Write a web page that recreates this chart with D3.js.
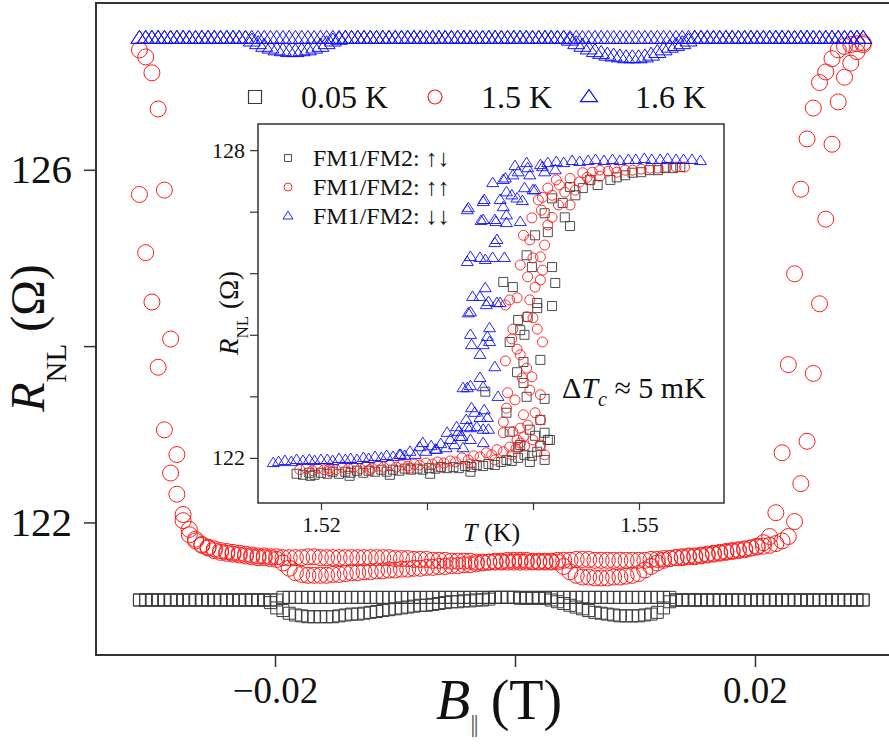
<!DOCTYPE html>
<html><head><meta charset="utf-8">
<script src="https://cdn.jsdelivr.net/npm/d3@7"></script>
<style>body{margin:0;background:#fff}svg{display:block}</style>
</head><body>
<svg id="c" width="889" height="745"></svg>
<script>
// ---------------- main panel data: R_NL (Ohm) vs B (T), evenly swept field ----------------
const B_START = -0.0313, B_STEP = 0.00052;   // field sweep grid (117 points)
const R_005K_a = [121.12,121.12,121.12,121.12,121.12,121.12,121.12,121.12,121.12,121.12,
 121.12,121.12,121.12,121.12,121.12,121.12,121.12,121.12,121.12,121.12,
 121.12,121.12,121.12,121.15,121.15,121.15,121.15,121.15,121.15,121.15,
 121.15,121.15,121.15,121.15,121.15,121.15,121.15,121.15,121.15,121.15,
 121.15,121.15,121.15,121.15,121.15,121.15,121.15,121.15,121.15,121.15,
 121.15,121.15,121.15,121.15,121.15,121.15,121.15,121.15,121.15,121.15,
 121.15,121.14,121.14,121.14,121.14,121.14,121.12,121.10,121.08,121.06,
 121.04,121.02,121.00,120.98,120.97,120.96,120.95,120.94,120.94,120.94,
 120.94,120.95,120.96,120.98,121.03,121.10,121.12,121.12,121.12,121.12,
 121.12,121.12,121.12,121.12,121.12,121.12,121.12,121.12,121.12,121.12,
 121.12,121.12,121.12,121.12,121.12,121.12,121.12,121.12,121.12,121.12,
 121.12,121.12,121.12,121.12,121.12,121.12,121.12];
const R_005K_b = [121.12,121.12,121.12,121.12,121.12,121.12,121.12,121.12,121.12,121.12,
 121.12,121.12,121.12,121.12,121.12,121.12,121.12,121.12,121.12,121.12,
 121.12,121.09,121.03,121.00,120.97,120.95,120.94,120.93,120.93,120.93,
 120.93,120.93,120.94,120.95,120.96,120.96,120.97,120.98,120.99,121.00,
 121.01,121.02,121.03,121.04,121.05,121.06,121.06,121.07,121.08,121.09,
 121.10,121.10,121.11,121.11,121.12,121.12,121.13,121.15,121.15,121.15,
 121.15,121.15,121.15,121.15,121.15,121.15,121.15,121.15,121.15,121.15,
 121.15,121.15,121.15,121.15,121.15,121.15,121.15,121.15,121.15,121.15,
 121.15,121.15,121.15,121.15,121.15,121.15,121.12,121.12,121.12,121.12,
 121.12,121.12,121.12,121.12,121.12,121.12,121.12,121.12,121.12,121.12,
 121.12,121.12,121.12,121.12,121.12,121.12,121.12,121.12,121.12,121.12,
 121.12,121.12,121.12,121.12,121.12,121.12,121.12];
const R_15K_a = [125.72,125.06,124.50,123.76,123.05,122.56,122.32,122.09,121.92,121.81,
 121.74,121.71,121.68,121.66,121.65,121.64,121.63,121.62,121.61,121.60,
 121.60,121.59,121.58,121.54,121.48,121.43,121.41,121.40,121.40,121.40,
 121.40,121.41,121.41,121.42,121.43,121.43,121.44,121.44,121.45,121.45,
 121.46,121.46,121.47,121.47,121.48,121.48,121.49,121.49,121.50,121.50,
 121.51,121.51,121.52,121.52,121.53,121.54,121.55,121.56,121.56,121.57,
 121.57,121.57,121.57,121.56,121.56,121.56,121.56,121.57,121.57,121.57,
 121.58,121.58,121.58,121.57,121.57,121.57,121.57,121.57,121.57,121.57,
 121.57,121.57,121.58,121.58,121.59,121.59,121.60,121.60,121.61,121.61,
 121.62,121.63,121.64,121.65,121.66,121.67,121.68,121.69,121.71,121.73,
 121.77,121.84,122.11,122.79,123.79,124.82,125.78,126.35,126.70,126.99,
 127.11,127.26,127.36,127.40,127.42,127.43,127.44];
const R_15K_b = [127.36,127.28,127.10,126.69,125.77,124.08,122.77,122.02,121.86,121.79,
 121.75,121.72,121.70,121.68,121.67,121.66,121.65,121.64,121.63,121.62,
 121.62,121.61,121.61,121.60,121.60,121.60,121.60,121.61,121.61,121.60,
 121.60,121.60,121.60,121.60,121.60,121.60,121.60,121.60,121.60,121.60,
 121.60,121.59,121.59,121.59,121.58,121.58,121.58,121.57,121.57,121.57,
 121.56,121.56,121.56,121.56,121.55,121.55,121.55,121.55,121.55,121.55,
 121.55,121.55,121.55,121.55,121.55,121.55,121.55,121.55,121.50,121.44,
 121.40,121.38,121.38,121.37,121.37,121.37,121.38,121.38,121.39,121.40,
 121.42,121.46,121.50,121.54,121.57,121.59,121.60,121.61,121.62,121.62,
 121.63,121.64,121.65,121.66,121.67,121.68,121.69,121.70,121.71,121.72,
 121.73,121.74,121.76,121.79,121.84,122.01,122.44,122.92,123.69,124.48,
 125.44,126.29,126.77,127.05,127.21,127.34,127.42];
const R_16K_a = [127.49,127.49,127.49,127.49,127.49,127.49,127.49,127.49,127.49,127.49,
 127.49,127.49,127.49,127.49,127.49,127.49,127.49,127.49,127.49,127.49,
 127.49,127.49,127.49,127.49,127.49,127.49,127.49,127.49,127.49,127.49,
 127.49,127.49,127.49,127.49,127.49,127.49,127.49,127.49,127.49,127.49,
 127.49,127.49,127.49,127.49,127.49,127.49,127.49,127.49,127.49,127.49,
 127.49,127.49,127.49,127.49,127.49,127.49,127.49,127.49,127.49,127.49,
 127.49,127.49,127.49,127.49,127.49,127.49,127.49,127.49,127.49,127.47,
 127.43,127.40,127.37,127.34,127.32,127.30,127.29,127.28,127.27,127.27,
 127.27,127.28,127.30,127.33,127.36,127.39,127.41,127.43,127.46,127.49,
 127.49,127.49,127.49,127.49,127.49,127.49,127.49,127.49,127.49,127.49,
 127.49,127.49,127.49,127.49,127.49,127.49,127.49,127.49,127.49,127.49,
 127.49,127.49,127.49,127.49,127.49,127.49,127.49];
const R_16K_b = [127.49,127.49,127.49,127.49,127.49,127.49,127.49,127.49,127.49,127.49,
 127.49,127.49,127.49,127.49,127.49,127.49,127.49,127.49,127.46,127.43,
 127.40,127.38,127.36,127.35,127.34,127.34,127.35,127.36,127.38,127.40,
 127.43,127.46,127.48,127.49,127.49,127.49,127.49,127.49,127.49,127.49,
 127.49,127.49,127.49,127.49,127.49,127.49,127.49,127.49,127.49,127.49,
 127.49,127.49,127.49,127.49,127.49,127.49,127.49,127.49,127.49,127.49,
 127.49,127.49,127.49,127.49,127.49,127.49,127.49,127.49,127.49,127.49,
 127.49,127.49,127.49,127.49,127.49,127.49,127.49,127.49,127.49,127.49,
 127.49,127.49,127.49,127.49,127.49,127.49,127.49,127.49,127.49,127.49,
 127.49,127.49,127.49,127.49,127.49,127.49,127.49,127.49,127.49,127.49,
 127.49,127.49,127.49,127.49,127.49,127.49,127.49,127.49,127.49,127.49,
 127.49,127.49,127.49,127.49,127.49,127.49,127.49];
const mainXTicks = [-0.02, 0, 0.02];
const mainXTickLabels = ["\u22120.02", "", "0.02"];
const mainYTicks = [122, 124, 126];
const mainYTickLabels = ["122", "", "126"];
const mainLegend = ["0.05 K", "1.5 K", "1.6 K"];

// ---------------- inset data: R_NL (Ohm) vs T (K) ----------------
const T_ud = [1.5177,1.5183,1.5189,1.5194,1.5200,1.5206,1.5211,1.5217,1.5223,1.5228,1.5234,1.5240,1.5245,1.5251,1.5257,1.5262,1.5268,1.5274,1.5279,1.5285,1.5291,1.5296,1.5302,1.5308,1.5313,1.5319,1.5325,1.5330,1.5336,1.5342,1.5347,1.5353,1.5358,1.5364,1.5370,1.5375,1.5380,1.5386,1.5392,1.5399,1.5404,1.5407,1.5402,1.5411,1.5411,1.5394,1.5375,1.5355,1.5391,1.5385,1.5391,1.5378,1.5392,1.5386,1.5404,1.5418,1.5372,1.5381,1.5395,1.5404,1.5394,1.5399,1.5418,1.5421,1.5402,1.5414,1.5430,1.5435,1.5428,1.5440,1.5447,1.5461,1.5473,1.5479,1.5487,1.5494,1.5502,1.5510,1.5518,1.5525,1.5532,1.5539,1.5378,1.5386,
 1.5407,1.5414,1.5397,1.5388,1.5418,1.5435,1.5454,1.5411,1.5388,1.5407,1.5416,1.5397,1.5411,1.5341,1.5303,1.5265,1.5227,1.5190];
const R_ud = [121.69,121.67,121.71,121.67,121.71,121.69,121.73,121.69,121.73,121.71,121.75,121.71,121.75,121.73,121.77,121.73,121.77,121.75,121.79,121.77,121.79,121.77,121.80,121.79,121.82,121.80,121.82,121.80,121.84,121.82,121.86,121.84,121.88,121.86,121.92,121.96,121.94,122.00,122.06,122.04,122.12,122.23,122.43,122.49,123.15,123.19,122.88,123.29,123.46,123.67,123.87,124.26,124.40,124.69,124.92,124.96,125.43,125.33,124.75,125.02,125.95,125.72,125.72,125.41,126.34,126.40,126.69,126.52,126.97,127.12,127.26,127.32,127.42,127.47,127.51,127.56,127.57,127.61,127.61,127.65,127.65,127.67,122.51,122.21,
 122.74,122.35,122.55,122.25,127.06,127.28,127.42,126.77,124.49,123.91,122.35,121.92,121.96,121.73,121.69,121.67,121.65,121.65];
const T_uu = [1.5180,1.5186,1.5192,1.5197,1.5203,1.5208,1.5214,1.5220,1.5226,1.5231,1.5237,1.5242,1.5248,1.5254,1.5259,1.5265,1.5271,1.5276,1.5282,1.5288,1.5293,1.5299,1.5305,1.5310,1.5316,1.5322,1.5327,1.5333,1.5339,1.5344,1.5350,1.5356,1.5361,1.5366,1.5372,1.5378,1.5384,1.5388,1.5392,1.5385,1.5391,1.5372,1.5381,1.5388,1.5372,1.5375,1.5402,1.5407,1.5391,1.5376,1.5399,1.5390,1.5394,1.5374,1.5385,1.5380,1.5409,1.5381,1.5404,1.5374,1.5385,1.5394,1.5400,1.5407,1.5409,1.5395,1.5402,1.5407,1.5391,1.5399,1.5408,1.5409,1.5418,1.5435,1.5418,1.5400,1.5425,1.5430,1.5435,1.5444,1.5451,1.5447,1.5463,1.5479,1.5494,1.5510,1.5526,1.5543,1.5456,1.5471,1.5487,1.5502,1.5518,1.5535,1.5414,1.5422,
 1.5378,1.5397,1.5388,1.5411,1.5397,1.5414,1.5405,1.5424,1.5440,1.5454,1.5463,1.5477,1.5388,1.5397,1.5383,1.5407,1.5395,1.5400,1.5380,1.5407,1.5411,1.5364,1.5341,1.5313,1.5284,1.5246,1.5208];
const R_uu = [121.77,121.80,121.75,121.80,121.77,121.80,121.77,121.82,121.79,121.82,121.79,121.84,121.80,121.84,121.82,121.86,121.82,121.86,121.84,121.88,121.86,121.90,121.88,121.92,121.90,121.94,121.92,122.00,121.96,122.04,122.02,122.10,122.06,122.16,122.12,122.21,122.18,122.29,122.23,122.35,122.41,122.49,122.51,122.58,122.70,122.97,122.88,122.74,122.84,123.27,123.58,123.56,123.75,123.89,124.12,124.32,124.26,124.51,124.51,124.98,125.12,124.75,124.73,125.92,125.66,125.53,125.33,125.47,126.34,126.68,126.83,127.08,127.12,126.93,126.69,125.90,127.32,127.18,127.45,127.38,127.47,127.56,127.61,127.57,127.61,127.65,127.67,127.67,127.57,127.59,127.61,127.63,127.65,127.67,127.26,127.42,
 125.08,125.08,125.76,126.15,126.25,126.54,127.03,126.93,127.22,127.42,127.49,127.65,124.01,123.32,123.13,123.23,122.64,122.35,122.06,122.25,122.06,121.96,121.88,121.82,121.80,121.77,121.75];
const T_dd = [1.5155,1.5160,1.5166,1.5172,1.5177,1.5183,1.5189,1.5194,1.5200,1.5206,1.5211,1.5217,1.5223,1.5228,1.5234,1.5240,1.5245,1.5251,1.5257,1.5262,1.5268,1.5274,1.5279,1.5284,1.5289,1.5293,1.5299,1.5304,1.5308,1.5313,1.5318,1.5322,1.5326,1.5330,1.5333,1.5337,1.5341,1.5345,1.5350,1.5354,1.5358,1.5334,1.5341,1.5350,1.5353,1.5367,1.5342,1.5350,1.5359,1.5357,1.5364,1.5339,1.5356,1.5366,1.5343,1.5355,1.5338,1.5350,1.5362,1.5373,1.5366,1.5338,1.5351,1.5365,1.5375,1.5388,1.5390,1.5354,1.5369,1.5380,1.5362,1.5392,1.5402,1.5374,1.5386,1.5397,1.5411,1.5421,1.5407,1.5414,1.5422,1.5429,1.5437,1.5444,1.5452,1.5459,1.5467,1.5475,1.5482,1.5490,1.5497,1.5505,1.5512,1.5520,1.5527,1.5535,1.5542,1.5550,1.5558,1.5383,1.5395,
 1.5339,1.5353,1.5372,1.5381,1.5394,1.5375,1.5385,1.5372,1.5364,1.5353,1.5375,1.5364,1.5355,1.5341,1.5358,1.5369,1.5341,1.5350,1.5341,1.5359,1.5353,1.5338,1.5342,1.5357,1.5328,1.5338,1.5347,1.5353,1.5319,1.5331,1.5341,1.5353,1.5296,1.5309,1.5334,1.5275,1.5400,1.5409];
const R_dd = [121.90,121.92,121.94,121.92,121.96,121.94,121.96,121.94,121.96,121.96,121.94,121.98,121.96,121.98,121.96,122.00,121.98,122.02,122.00,122.04,122.02,122.06,122.04,122.12,122.06,122.21,122.12,122.23,122.16,122.27,122.19,122.35,122.25,122.51,122.41,122.74,122.58,122.88,122.78,122.93,122.55,123.36,123.40,123.56,123.38,123.19,124.20,124.01,124.26,124.36,123.77,124.82,124.98,125.02,125.14,125.31,125.82,125.90,125.90,125.90,126.25,126.83,126.62,126.60,126.58,126.60,127.01,127.03,127.03,127.12,127.36,127.26,127.22,127.45,127.57,127.51,127.57,127.61,127.71,127.75,127.77,127.75,127.79,127.77,127.79,127.81,127.79,127.81,127.79,127.81,127.81,127.83,127.81,127.81,127.83,127.81,127.81,127.81,127.79,127.69,127.65,
 126.87,126.99,127.42,127.51,127.75,127.18,127.06,126.89,126.64,126.64,126.73,126.19,125.86,125.92,125.04,125.02,124.84,125.14,124.40,124.53,124.20,123.36,122.97,122.78,122.60,122.60,122.60,122.55,122.49,122.41,122.35,122.29,122.29,122.16,122.19,122.06,127.22,127.67];
const insetXTicks = [1.52, 1.53, 1.54, 1.55];
const insetXTickLabels = ["1.52", "", "", "1.55"];
const insetYTicks = [122, 123.2, 124.4, 125.6, 126.8, 128];
const insetYTickLabels = ["122", "", "", "", "", "128"];
const insetLegend = ["FM1/FM2: \u2191\u2193", "FM1/FM2: \u2191\u2191", "FM1/FM2: \u2193\u2193"];

// ---------------- drawing ----------------
const FONT = "'Liberation Serif','Times New Roman',serif";
const C_BLK = "#3a3a3a", C_RED = "#ff1a1a", C_BLU = "#1010ff";
const svg = d3.select("#c");

const sq = s => `M${-s/2},${-s/2}h${s}v${s}h${-s}Z`;
const tri = (w, h) => `M0,${-h*0.62}L${w/2},${h*0.38}L${-w/2},${h*0.38}Z`;
const circ = r => `M${r},0A${r},${r} 0 1,1 ${-r},0A${r},${r} 0 1,1 ${r},0Z`;

// main scales
const x = d3.scaleLinear().domain([-0.03492, 0.03142]).range([96, 892]);
const y = d3.scaleLinear().domain([120.496, 127.892]).range([655, 3]);
const Bgrid = R_005K_a.map((_, i) => B_START + i * B_STEP);

function drawMain(arr, path, color, sw) {
  svg.append("g").selectAll("path").data(arr).join("path")
    .attr("d", path)
    .attr("transform", (d, i) => `translate(${x(Bgrid[i])},${y(d)})`)
    .attr("fill", "none").attr("stroke", color).attr("stroke-width", sw);
}
drawMain(R_005K_a, sq(12), C_BLK, 1);
drawMain(R_005K_b, sq(12), C_BLK, 1);
drawMain(R_15K_a, circ(8), C_RED, 1);
drawMain(R_15K_b, circ(8), C_RED, 1);
drawMain(R_16K_a, tri(17, 13), C_BLU, 1);
drawMain(R_16K_b, tri(17, 13), C_BLU, 1);

// main frame
svg.append("path").attr("d", `M892,3H96V655H892`).attr("fill", "none")
  .attr("stroke", "#333").attr("stroke-width", 2);

// main axes
const gx = svg.append("g").attr("transform", "translate(0,655)")
  .call(d3.axisBottom(x).tickValues(mainXTicks).tickSize(12).tickSizeOuter(0).tickPadding(10)
    .tickFormat((d, i) => mainXTickLabels[i]));
gx.select(".domain").remove();
gx.selectAll("line").attr("stroke", "#333").attr("stroke-width", 1.5);
gx.selectAll("text").attr("font-family", FONT).attr("font-size", 37).attr("fill", "#111");

const gy = svg.append("g").attr("transform", "translate(96,0)")
  .call(d3.axisLeft(y).tickValues(mainYTicks).tickSize(12).tickSizeOuter(0).tickPadding(12)
    .tickFormat((d, i) => mainYTickLabels[i]));
gy.select(".domain").remove();
gy.selectAll("line").attr("stroke", "#333").attr("stroke-width", 1.5);
gy.selectAll("text").attr("font-family", FONT).attr("font-size", 41).attr("fill", "#111");

// axis titles
const xt = svg.append("text").attr("x", 436).attr("y", 719)
  .attr("font-family", FONT).attr("font-size", 56).attr("fill", "#111");
xt.append("tspan").attr("font-style", "italic").text("B");
xt.append("tspan").attr("font-size", 26).attr("dy", 13).attr("letter-spacing", -2)
  .attr("fill", "#555").text("||");
xt.append("tspan").attr("dy", -13).attr("letter-spacing", 0).attr("fill", "#111").text(" (T)");

const yt = svg.append("text").attr("transform", "translate(44,338) rotate(-90)")
  .attr("text-anchor", "middle").attr("font-family", FONT).attr("font-size", 48).attr("fill", "#111");
yt.append("tspan").attr("font-style", "italic").text("R");
yt.append("tspan").attr("font-size", 29).attr("dy", 22).text("NL");
yt.append("tspan").attr("dy", -22).text(" (\u03A9)");

// main legend
const legSym = [sq(13), circ(7), tri(17, 12)];
const legCol = [C_BLK, C_RED, C_BLU];
const legX = [255, 435, 589];
mainLegend.forEach((t, i) => {
  svg.append("path").attr("d", legSym[i]).attr("transform", `translate(${legX[i]},97)`)
    .attr("fill", "none").attr("stroke", legCol[i]).attr("stroke-width", 1.2);
  svg.append("text").attr("x", legX[i] + 46).attr("y", 108).attr("font-family", FONT)
    .attr("font-size", 32).attr("fill", "#111").text(t);
});

// ---------------- inset ----------------
const xi = d3.scaleLinear().domain([1.51406, 1.55802]).range([258, 724]);
const yi = d3.scaleLinear().domain([121.12, 128.51]).range([503, 124]);
svg.append("rect").attr("x", 258).attr("y", 124).attr("width", 466).attr("height", 379)
  .attr("fill", "#fff").attr("stroke", "#333").attr("stroke-width", 1.5);

function drawInset(Ts, Rs, path, color) {
  svg.append("g").selectAll("path").data(Ts).join("path")
    .attr("d", path)
    .attr("transform", (d, i) => `translate(${xi(d)},${yi(Rs[i])})`)
    .attr("fill", "none").attr("stroke", color).attr("stroke-width", 0.9);
}
drawInset(T_ud, R_ud, sq(9), C_BLK);
drawInset(T_uu, R_uu, circ(5), C_RED);
drawInset(T_dd, R_dd, tri(12, 9.5), C_BLU);

const gxi = svg.append("g").attr("transform", "translate(0,503)")
  .call(d3.axisBottom(xi).tickValues(insetXTicks).tickSize(7).tickSizeOuter(0).tickPadding(6)
    .tickFormat((d, i) => insetXTickLabels[i]));
gxi.select(".domain").remove();
gxi.selectAll("line").attr("stroke", "#333").attr("stroke-width", 1.2);
gxi.selectAll("text").attr("font-family", FONT).attr("font-size", 22).attr("fill", "#111");

const gyi = svg.append("g").attr("transform", "translate(258,0)")
  .call(d3.axisLeft(yi).tickValues(insetYTicks).tickSize(8).tickSizeOuter(0).tickPadding(5)
    .tickFormat((d, i) => insetYTickLabels[i]));
gyi.select(".domain").remove();
gyi.selectAll("line").attr("stroke", "#333").attr("stroke-width", 1.2);
gyi.selectAll("text").attr("font-family", FONT).attr("font-size", 22).attr("fill", "#111");

const xti = svg.append("text").attr("x", 463).attr("y", 541)
  .attr("font-family", FONT).attr("font-size", 26).attr("fill", "#111");
xti.append("tspan").attr("font-style", "italic").text("T");
xti.append("tspan").text(" (K)");

const yti = svg.append("text").attr("transform", "translate(238,313) rotate(-90)")
  .attr("text-anchor", "middle").attr("font-family", FONT).attr("font-size", 27).attr("fill", "#111");
yti.append("tspan").attr("font-style", "italic").text("R");
yti.append("tspan").attr("font-size", 17).attr("dy", 10).text("NL");
yti.append("tspan").attr("dy", -10).text(" (\u03A9)");

// inset legend
const ilSym = [sq(7), circ(4), tri(10, 8)];
insetLegend.forEach((t, i) => {
  const cy = 158 + i * 29;
  svg.append("path").attr("d", ilSym[i]).attr("transform", `translate(288,${cy})`)
    .attr("fill", "none").attr("stroke", legCol[i]).attr("stroke-width", 0.9);
  svg.append("text").attr("x", 313).attr("y", cy + 8).attr("font-family", FONT)
    .attr("font-size", 24).attr("fill", "#111").text(t);
});

// Delta Tc annotation
const dt = svg.append("text").attr("x", 562).attr("y", 398)
  .attr("font-family", FONT).attr("font-size", 30).attr("fill", "#111");
dt.append("tspan").text("\u0394");
dt.append("tspan").attr("font-style", "italic").text("T");
dt.append("tspan").attr("font-style", "italic").attr("font-size", 20).attr("dy", 8).text("c");
dt.append("tspan").attr("dy", -8).text(" \u2248 5 mK");
</script>
</body></html>
